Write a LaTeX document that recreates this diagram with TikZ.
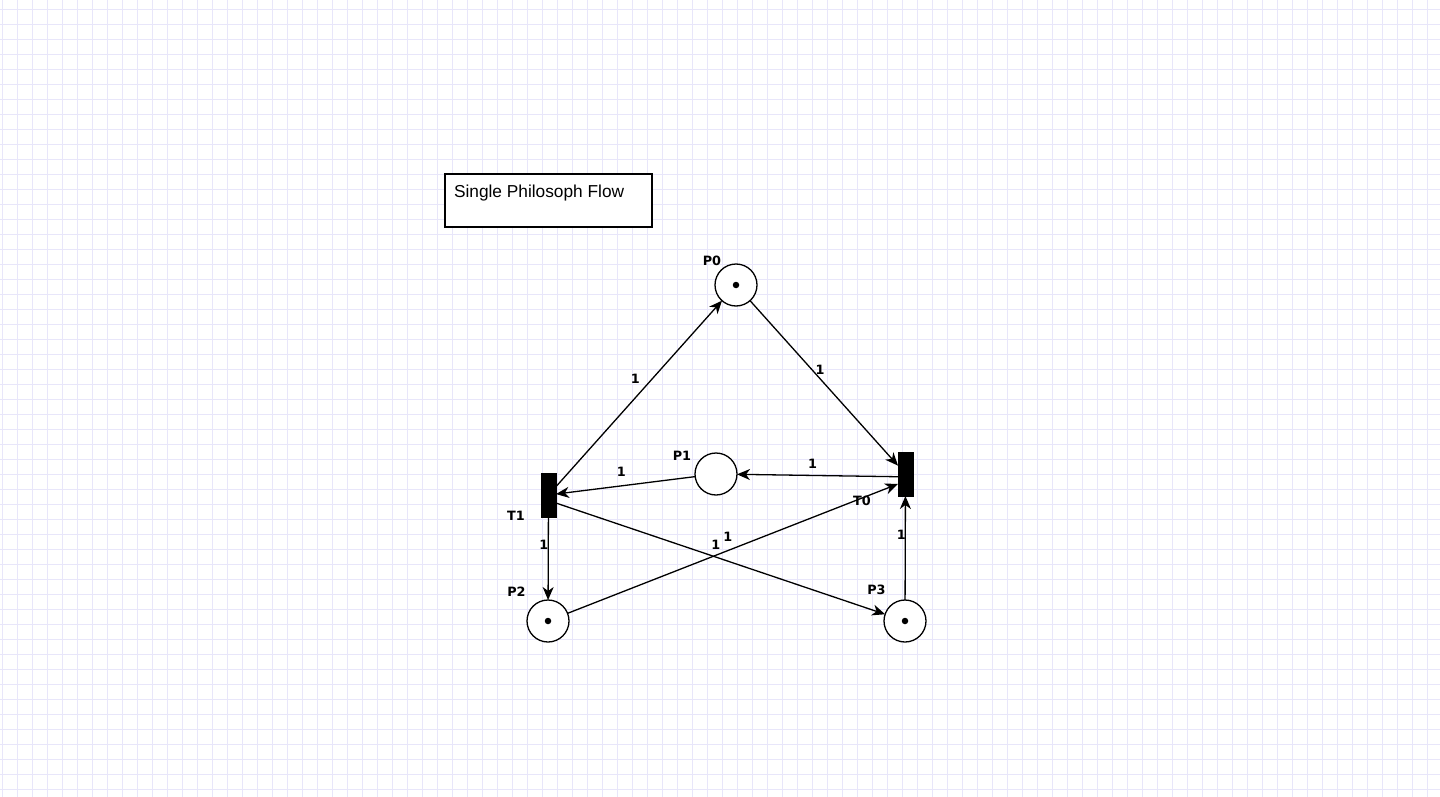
\documentclass[tikz,border=0pt]{standalone}
\usepackage{fontspec}
\setmainfont{Liberation Sans}
\newfontfamily\lblfont{DejaVu Sans}
\usetikzlibrary{arrows.meta,positioning}
\definecolor{gridcol}{RGB}{232,230,250}

\begin{document}
\begin{tikzpicture}[x=1pt, y=-1pt,
    every node/.style={outer sep=0pt},
    place/.style={draw, circle, line width=1.3pt, minimum size=42pt, inner sep=0pt, fill=white},
    tokendot/.style={circle, fill=black, minimum size=6.5pt, inner sep=0pt},
    transition/.style={draw, rectangle, fill=black, line width=1pt, minimum width=15pt, minimum height=44pt, inner sep=0pt},
    lbl/.style={font=\lblfont\bfseries\fontsize{12.8}{13}\selectfont, inner sep=0pt},
    arc/.style={-{Stealth[length=13pt, width=11pt, inset=4pt]}, line width=1.3pt}]
    % Background and grid
    \fill[white] (0,0) rectangle (1440,797);
    \useasboundingbox (0,0) rectangle (1440,797);
    \foreach \x in {2,17,...,1440}
        \draw[gridcol, line width=0.7pt] (\x,0) -- (\x,797);
    \foreach \y in {9,24,...,797}
        \draw[gridcol, line width=0.7pt] (0,\y) -- (1440,\y);

    % Title box
    \draw[line width=1.3pt, fill=white] (445,174) rectangle (652,227);
    \node[anchor=base west, inner sep=0pt, font=\fontsize{17.3}{20}\selectfont] (title) at (454,197.3) {Single Philosoph Flow};

    % Places
    \node[place] (p0) at (736,285) {};
    \node[place] (p1) at (716,474) {};
    \node[place] (p2) at (548,621) {};
    \node[place] (p3) at (905,621) {};
    \node[tokendot] (p0tok) at (p0) {};
    \node[tokendot] (p2tok) at (p2) {};
    \node[tokendot] (p3tok) at (p3) {};

    % Transitions
    \node[transition] (t1) at (548.5,495) {};
    \node[transition] (t0) at (905.5,474) {};

    % Names
    \node[lbl] (p0name) at (712,261) {P0};
    \node[lbl] (p1name) at (682,456) {P1};
    \node[lbl] (p2name) at (516.5,591.5) {P2};
    \node[lbl] (p3name) at (876.5,590) {P3};
    \node[lbl] (t1name) at (516,516) {T1};
    \node[lbl] (t0name) at (862,501) {T0};

    % Arcs with weights
    \draw[arc] (t1) -- node[lbl, pos=0.58, xshift=-17pt] {1} (p0);
    \draw[arc] (p0) -- node[lbl, pos=0.42, xshift=8pt] {1} (t0);
    \draw[arc] (t0.200) -- node[lbl, pos=0.53, yshift=12pt] {1} (p1);
    \draw[arc] (p1) -- node[lbl, pos=0.53, yshift=14pt] {1} (t1);
    \draw[arc] (t1) -- node[lbl, pos=0.34, xshift=-4.5pt] {1} (p2);
    \draw[arc] (p2) -- node[lbl, pos=0.485, yshift=13.5pt] {1} (t0.233);
    \draw[arc] (t1.-47) -- node[lbl, pos=0.486, yshift=12pt] {1} (p3);
    \draw[arc] (p3) -- node[lbl, pos=0.63, xshift=-4pt] {1} (t0);
\end{tikzpicture}
\end{document}
